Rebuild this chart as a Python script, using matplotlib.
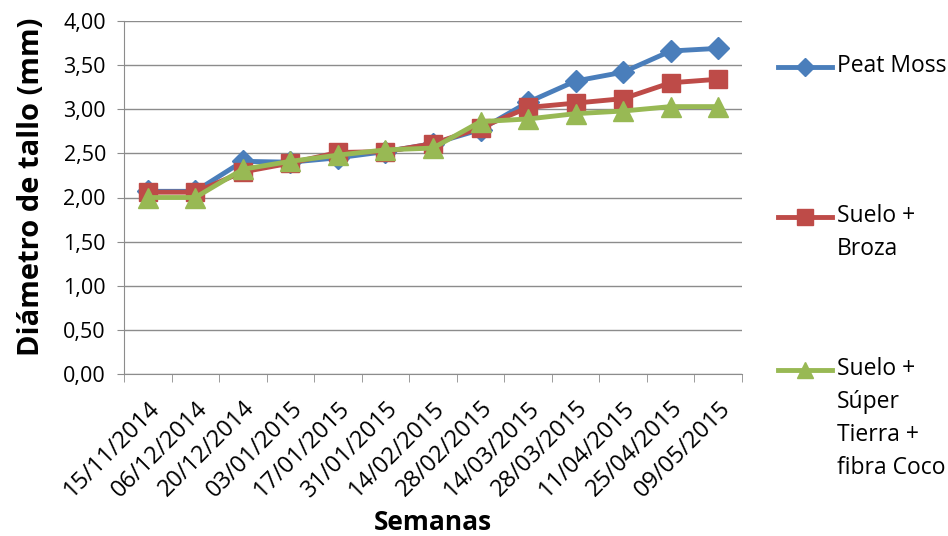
import numpy as np
import matplotlib.pyplot as plt
from matplotlib.lines import Line2D

plt.rcParams['font.family'] = ['Open Sans', 'DejaVu Sans']

fechas = ['15/11/2014', '06/12/2014', '20/12/2014', '03/01/2015', '17/01/2015',
          '31/01/2015', '14/02/2015', '28/02/2015', '14/03/2015', '28/03/2015',
          '11/04/2015', '25/04/2015', '09/05/2015']
peat_moss = [2.07, 2.07, 2.41, 2.40, 2.45, 2.52, 2.61, 2.77, 3.08, 3.32, 3.42, 3.66, 3.69]
suelo_broza = [2.06, 2.06, 2.29, 2.39, 2.51, 2.52, 2.61, 2.79, 3.02, 3.07, 3.12, 3.30, 3.34]
suelo_super = [2.00, 2.00, 2.32, 2.41, 2.48, 2.54, 2.56, 2.86, 2.89, 2.95, 2.98, 3.03, 3.03]

series = ['Peat Moss', 'Suelo +\nBroza', 'Suelo +\nSúper\nTierra +\nfibra Coco']
colores = ['#4A7EBB', '#BE4B48', '#98B954']
marcadores = ['D', 's', '^']
tam = [11, 13, 15]

fig = plt.figure(figsize=(9.48, 5.36), dpi=100)
ax = fig.add_axes([124 / 948, 1 - 374 / 536, (742 - 124) / 948, (374 - 21) / 536])

x = np.arange(len(fechas))
for datos, c, m, s in zip([peat_moss, suelo_broza, suelo_super], colores, marcadores, tam):
    ax.plot(x, datos, color=c, lw=3.5, marker=m, ms=s, zorder=3)

ax.set_ylim(0, 4)
ax.set_xlim(-0.5, len(fechas) - 0.5)
ax.set_yticks(np.arange(0, 4.01, 0.5))
ax.set_yticklabels([f'{v:.2f}'.replace('.', ',') for v in np.arange(0, 4.01, 0.5)], fontsize=15.5)
ax.yaxis.grid(True, color='#8c8c8c', lw=1)
ax.set_axisbelow(True)

ax.set_xticks(x)
ax.set_xticklabels(fechas, rotation=45, ha='right', rotation_mode='anchor', fontsize=17)
ax.tick_params(axis='x', length=0, pad=16)
ax.set_xticks(np.arange(-0.5, len(fechas)), minor=True)
ax.tick_params(axis='x', which='minor', length=6, color='#8c8c8c')
ax.tick_params(axis='y', length=5, color='#8c8c8c', pad=8)

for lado in ['top', 'right']:
    ax.spines[lado].set_visible(False)
for lado in ['left', 'bottom']:
    ax.spines[lado].set_color('#8c8c8c')

ax.set_ylabel('Diámetro de tallo (mm)', fontsize=21, fontweight='bold')
ax.yaxis.set_label_coords(-0.127, 0.53)
ax.set_xlabel('Semanas', fontsize=19, fontweight='bold', labelpad=5)

# leyenda manual a la derecha
ys = [67, 217, 370]
for nombre, c, m, y in zip(series, colores, marcadores, ys):
    yf = 1 - y / 536
    fig.add_artist(Line2D([778 / 948, 832 / 948], [yf, yf], color=c, lw=3.5))
    fig.add_artist(Line2D([805 / 948], [yf], color=c, marker=m, ms=9 if m == 'D' else 11))
    fig.text(837 / 948, yf + 13 / 536, nombre, fontsize=16.5, va='top', ha='left', linespacing=1.5)

fig.savefig('out.png', dpi=100)
